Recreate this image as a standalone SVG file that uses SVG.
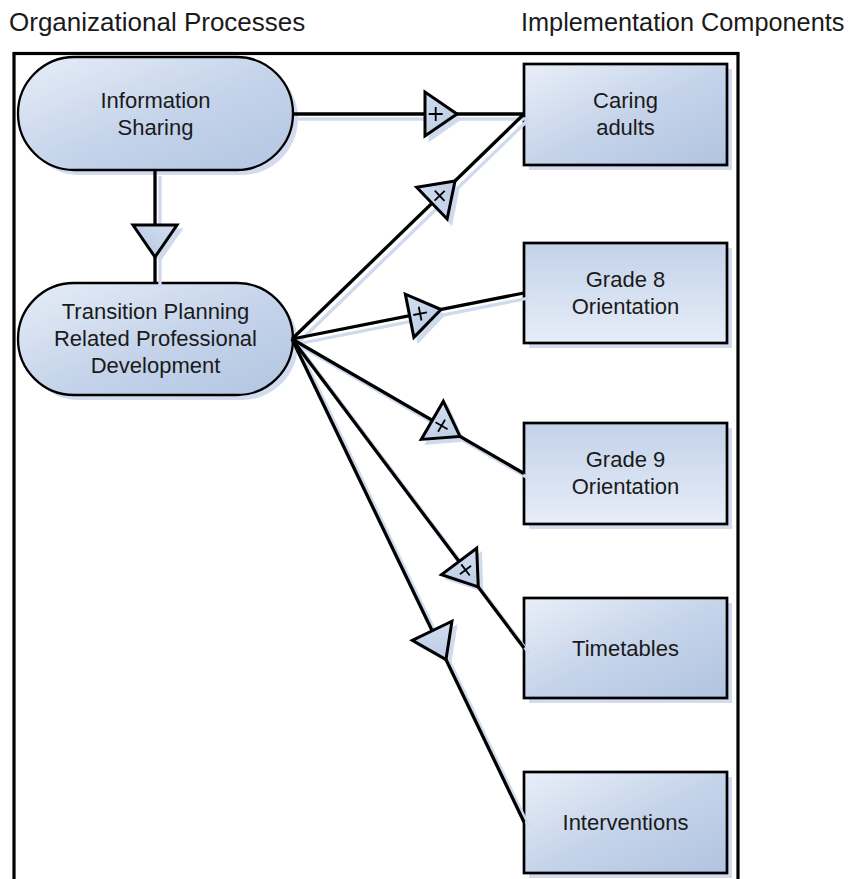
<svg xmlns="http://www.w3.org/2000/svg" width="856" height="879" viewBox="0 0 856 879">
<style>
  .title { font-family: "Liberation Sans", Arial, sans-serif; font-size: 26px; fill: #1a1a1a; }
  .lbl { font-family: "Liberation Sans", Arial, sans-serif; font-size: 22px; fill: #1a1a1a; text-anchor: middle; }
  .pill { stroke: #000; stroke-width: 2.3; }
  .box { stroke: #000; stroke-width: 2.7; }
  .shadow { fill: #d2dcee; stroke: none; }
  .conn { fill: none; stroke: #000; stroke-width: 3.3; }
  .connsh { fill: none; stroke: #d0daed; stroke-width: 3.3; }
  .tri { fill: url(#gTri); stroke: #000; stroke-width: 3; stroke-linejoin: miter; }
  .trish { fill: #d0daed; stroke: none; }
  .mark { fill: none; stroke: #000; stroke-width: 1.8; }
</style>
<defs>
  <linearGradient id="gDiag" x1="0" y1="0" x2="1" y2="1">
    <stop offset="0" stop-color="#e9eff8"/>
    <stop offset="0.5" stop-color="#c6d4ea"/>
    <stop offset="1" stop-color="#b0c3e0"/>
  </linearGradient>
  <linearGradient id="gPill" x1="0" y1="0" x2="1" y2="1">
    <stop offset="0" stop-color="#e6edf7"/>
    <stop offset="0.55" stop-color="#c4d3ea"/>
    <stop offset="1" stop-color="#b2c5e1"/>
  </linearGradient>
  <linearGradient id="gVert" x1="0" y1="0" x2="0" y2="1">
    <stop offset="0" stop-color="#c3d2e9"/>
    <stop offset="1" stop-color="#e6edf7"/>
  </linearGradient>
  <linearGradient id="gTri" x1="0" y1="0" x2="1" y2="1">
    <stop offset="0" stop-color="#d3def0"/>
    <stop offset="1" stop-color="#b6c8e3"/>
  </linearGradient>
  <g id="triPlain">
    <polygon class="tri" points="0,0 -32,-22 -32,22"/>
  </g>
  <g id="triPlus">
    <polygon class="tri" points="0,0 -32,-22 -32,22"/>
    <path class="mark" d="M-28.3,0 H-14.3 M-21.3,-7 V7"/>
  </g>
  <g id="triShadow">
    <polygon class="trish" points="0,0 -33.5,-23.5 -33.5,23.5"/>
  </g>
</defs>

<rect width="856" height="879" fill="#ffffff"/>

<text class="title" x="9" y="31">Organizational Processes</text>
<text class="title" x="521" y="31" style="font-size:25.3px">Implementation Components</text>

<rect id="frame" x="14" y="53.5" width="724" height="860" fill="none" stroke="#000" stroke-width="3.2"/>

<g id="node-information-sharing">
  <rect class="shadow" x="23" y="62" width="275" height="113" rx="56.5"/>
  <rect class="pill" x="18" y="57" width="275" height="113" rx="56.5" fill="url(#gPill)"/>
  <text class="lbl" x="155.5" y="108">Information</text>
  <text class="lbl" x="155.5" y="135">Sharing</text>
</g>

<g id="node-transition-planning">
  <rect class="shadow" x="23" y="288" width="275" height="112" rx="56"/>
  <rect class="pill" x="18" y="283" width="275" height="112" rx="56" fill="url(#gPill)"/>
  <text class="lbl" x="155.5" y="319">Transition Planning</text>
  <text class="lbl" x="155.5" y="346">Related Professional</text>
  <text class="lbl" x="155.5" y="372.5">Development</text>
</g>

<g id="node-caring-adults">
  <rect class="shadow" x="529" y="69" width="203" height="101"/>
  <rect class="box" x="524" y="64" width="203" height="101" fill="url(#gDiag)"/>
  <text class="lbl" x="625.5" y="108">Caring</text>
  <text class="lbl" x="625.5" y="135">adults</text>
</g>

<g id="node-grade8">
  <rect class="shadow" x="529" y="248" width="203" height="100"/>
  <rect class="box" x="524" y="243" width="203" height="100" fill="url(#gVert)"/>
  <text class="lbl" x="625.5" y="287">Grade 8</text>
  <text class="lbl" x="625.5" y="313.5">Orientation</text>
</g>

<g id="node-grade9">
  <rect class="shadow" x="529" y="428" width="203" height="101"/>
  <rect class="box" x="524" y="423" width="203" height="101" fill="url(#gVert)"/>
  <text class="lbl" x="625.5" y="467">Grade 9</text>
  <text class="lbl" x="625.5" y="493.5">Orientation</text>
</g>

<g id="node-timetables">
  <rect class="shadow" x="529" y="603" width="203" height="100"/>
  <rect class="box" x="524" y="598" width="203" height="100" fill="url(#gDiag)"/>
  <text class="lbl" x="625.5" y="656">Timetables</text>
</g>

<g id="node-interventions">
  <rect class="shadow" x="529" y="777" width="203" height="101"/>
  <rect class="box" x="524" y="772" width="203" height="101" fill="url(#gDiag)"/>
  <text class="lbl" x="625.5" y="830">Interventions</text>
</g>

<g id="connectors">
  <!-- shadows -->
  <g id="connector-shadows">
    <path class="connsh" d="M160,176 V288"/>
    <path class="connsh" d="M298,119 H529"/>
    <path class="connsh" d="M297,344 L529,119"/>
    <path class="connsh" d="M297,344 L529,298"/>
    <path class="connsh" d="M297,344 L529,478.5"/>
    <path class="connsh" d="M297,344 L529,653"/>
    <path class="connsh" d="M297,344 L529,827"/>
    <use href="#triShadow" transform="translate(160,262) rotate(90)"/>
    <use href="#triShadow" transform="translate(462,119)"/>
    <use href="#triShadow" transform="translate(460,186) rotate(-43.8)"/>
    <use href="#triShadow" transform="translate(446,314.5) rotate(-11.2)"/>
    <use href="#triShadow" transform="translate(465,441.4) rotate(30.1)"/>
    <use href="#triShadow" transform="translate(483.3,592) rotate(53.1)"/>
    <use href="#triShadow" transform="translate(451,664.6) rotate(64.3)"/>
  </g>
  <!-- lines -->
  <g id="connector-lines">
    <path class="conn" d="M155,171 V283"/>
    <path class="conn" d="M293,114 H524"/>
    <path class="conn" d="M292,339 L524,114"/>
    <path class="conn" d="M292,339 L524,293"/>
    <path class="conn" d="M292,339 L524,473.5"/>
    <path class="conn" d="M292,339 L524,648"/>
    <path class="conn" d="M292,339 L524,822"/>
  </g>
  <!-- junction symbols -->
  <g id="connector-symbols">
    <use href="#triPlain" transform="translate(155,257) rotate(90)"/>
    <use href="#triPlus" transform="translate(457,114)"/>
    <use href="#triPlus" transform="translate(455,181) rotate(-43.8)"/>
    <use href="#triPlus" transform="translate(441,309.5) rotate(-11.2)"/>
    <use href="#triPlus" transform="translate(460,436.4) rotate(30.1)"/>
    <use href="#triPlus" transform="translate(478.3,587) rotate(53.1)"/>
    <use href="#triPlain" transform="translate(446,659.6) rotate(64.3)"/>
  </g>
</g>
</svg>
